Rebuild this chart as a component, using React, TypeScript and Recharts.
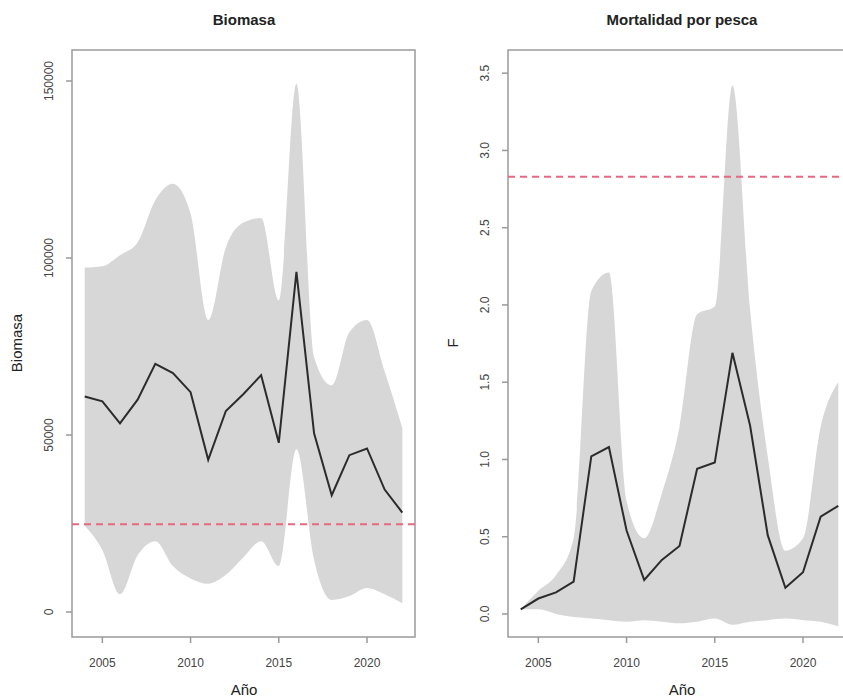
import { Area, ComposedChart, Line, ReferenceArea, ReferenceLine, XAxis, YAxis } from "recharts";

const years = [2004, 2005, 2006, 2007, 2008, 2009, 2010, 2011, 2012, 2013, 2014, 2015, 2016, 2017, 2018, 2019, 2020, 2021, 2022];

// Biomasa: median and band
const bioMed = [60900, 59500, 53300, 60000, 70100, 67500, 62100, 43000, 56800, 61600, 66900, 47800, 96100, 50500, 33000, 44300, 46200, 34600, 28100];
const bioHi = [97300, 97700, 100800, 104400, 116300, 121000, 112500, 82500, 103000, 110000, 111300, 88000, 149200, 72000, 64000, 79000, 82500, 68000, 52000];
const bioLo = [24400, 17500, 5000, 16000, 20000, 13000, 9500, 8000, 10500, 15500, 20000, 13000, 46000, 14700, 3400, 4500, 6800, 5000, 2500];
const bioRef = 24800;

// Mortalidad por pesca (F)
const fMed = [0.03, 0.1, 0.14, 0.21, 1.02, 1.08, 0.54, 0.22, 0.35, 0.44, 0.94, 0.98, 1.69, 1.22, 0.51, 0.17, 0.27, 0.63, 0.7];
const fHi = [0.03, 0.15, 0.25, 0.49, 2.09, 2.21, 0.73, 0.49, 0.78, 1.21, 1.94, 1.99, 3.42, 1.97, 1.02, 0.41, 0.49, 1.21, 1.5];
const fLo = [0.03, 0.03, 0.0, -0.02, -0.03, -0.04, -0.05, -0.04, -0.05, -0.06, -0.05, -0.03, -0.07, -0.05, -0.04, -0.03, -0.04, -0.05, -0.08];
const fRef = 2.83;

const xTicks = [2005, 2010, 2015, 2020];
const bioTicks = [0, 50000, 100000, 150000];
const fTicks = [0, 0.5, 1, 1.5, 2, 2.5, 3, 3.5];

const bioData = years.map((year, i) => ({ year, med: bioMed[i], band: [bioLo[i], bioHi[i]] }));
const fData = years.map((year, i) => ({ year, med: fMed[i], band: [fLo[i], fHi[i]] }));

const xDomain: [number, number] = [2003.28, 2022.72];
const bioDomain: [number, number] = [-7060, 158760];
const fDomain: [number, number] = [-0.149, 3.65];

const font = "'Liberation Sans', Arial, sans-serif";
const boxColor = "#9a9a9a";
const bandColor = "#d7d7d7";
const refColor = "#e8697f";

function XTick(props: any) {
  const { x, y, payload } = props;
  return (
    <text x={x} y={y + 22} textAnchor="middle" fontSize={12} fill="#444" fontFamily={font}>
      {payload.value}
    </text>
  );
}

function makeYTick(fmt: (v: number) => string) {
  return (props: any) => {
    const { x, y, payload } = props;
    const cx = x - 17;
    return (
      <text
        x={cx}
        y={y}
        dy="0.35em"
        textAnchor="middle"
        fontSize={12}
        fill="#444"
        fontFamily={font}
        transform={`rotate(-90, ${cx}, ${y})`}
      >
        {fmt(payload.value)}
      </text>
    );
  };
}

function Panel({ data, yDomain, yTicks, refY, yWidth, right, fmt }: any) {
  return (
    <ComposedChart width={430} height={700} data={data} margin={{ top: 50, right, bottom: 0, left: 0 }}>
      <XAxis
        type="number"
        dataKey="year"
        domain={xDomain}
        ticks={xTicks}
        allowDataOverflow
        height={63}
        axisLine={false}
        tickSize={6}
        tickLine={{ stroke: boxColor, strokeWidth: 1.5 }}
        tick={XTick}
      />
      <YAxis
        type="number"
        domain={yDomain}
        ticks={yTicks}
        allowDataOverflow
        width={yWidth}
        axisLine={false}
        tickSize={6}
        tickMargin={0}
        tickLine={{ stroke: boxColor, strokeWidth: 1.5 }}
        tick={makeYTick(fmt)}
      />
      <Area
        dataKey="band"
        type="monotone"
        stroke="none"
        fill={bandColor}
        fillOpacity={1}
        isAnimationActive={false}
        activeDot={false}
        dot={false}
      />
      <ReferenceLine y={refY} stroke={refColor} strokeWidth={2} strokeDasharray="7 5" />
      <Line
        dataKey="med"
        type="linear"
        stroke="#2b2b2b"
        strokeWidth={2}
        dot={false}
        activeDot={false}
        isAnimationActive={false}
      />
      <ReferenceArea
        x1={xDomain[0]}
        x2={xDomain[1]}
        y1={yDomain[0]}
        y2={yDomain[1]}
        fill="none"
        stroke={boxColor}
        strokeWidth={1.5}
        ifOverflow="visible"
      />
    </ComposedChart>
  );
}

export default function App() {
  return (
    <div
      style={{
        position: "absolute",
        left: 0,
        top: 0,
        width: 843,
        height: 700,
        overflow: "hidden",
        background: "#fff",
        fontFamily: font,
      }}
    >
      <div style={{ position: "absolute", left: 0, top: 0 }}>
        <Panel data={bioData} yDomain={bioDomain} yTicks={bioTicks} refY={bioRef} yWidth={72} right={15} fmt={(v: number) => String(v)} />
      </div>
      <div style={{ position: "absolute", left: 430, top: 0 }}>
        <Panel data={fData} yDomain={fDomain} yTicks={fTicks} refY={fRef} yWidth={78} right={9} fmt={(v: number) => v.toFixed(1)} />
      </div>
      <svg width={843} height={700} style={{ position: "absolute", left: 0, top: 0, pointerEvents: "none" }}>
        <text x={244} y={25} textAnchor="middle" fontSize={15} fontWeight="bold" fill="#222" fontFamily={font}>
          Biomasa
        </text>
        <text x={682} y={25} textAnchor="middle" fontSize={15} fontWeight="bold" fill="#222" fontFamily={font}>
          Mortalidad por pesca
        </text>
        <text x={244} y={695} textAnchor="middle" fontSize={15} fill="#222" fontFamily={font}>
          Año
        </text>
        <text x={682} y={695} textAnchor="middle" fontSize={15} fill="#222" fontFamily={font}>
          Año
        </text>
        <text x={17} y={343} dy="0.35em" textAnchor="middle" fontSize={15} fill="#222" fontFamily={font} transform="rotate(-90, 17, 343)">
          Biomasa
        </text>
        <text x={453} y={343} dy="0.35em" textAnchor="middle" fontSize={15} fill="#222" fontFamily={font} transform="rotate(-90, 453, 343)">
          F
        </text>
      </svg>
    </div>
  );
}
